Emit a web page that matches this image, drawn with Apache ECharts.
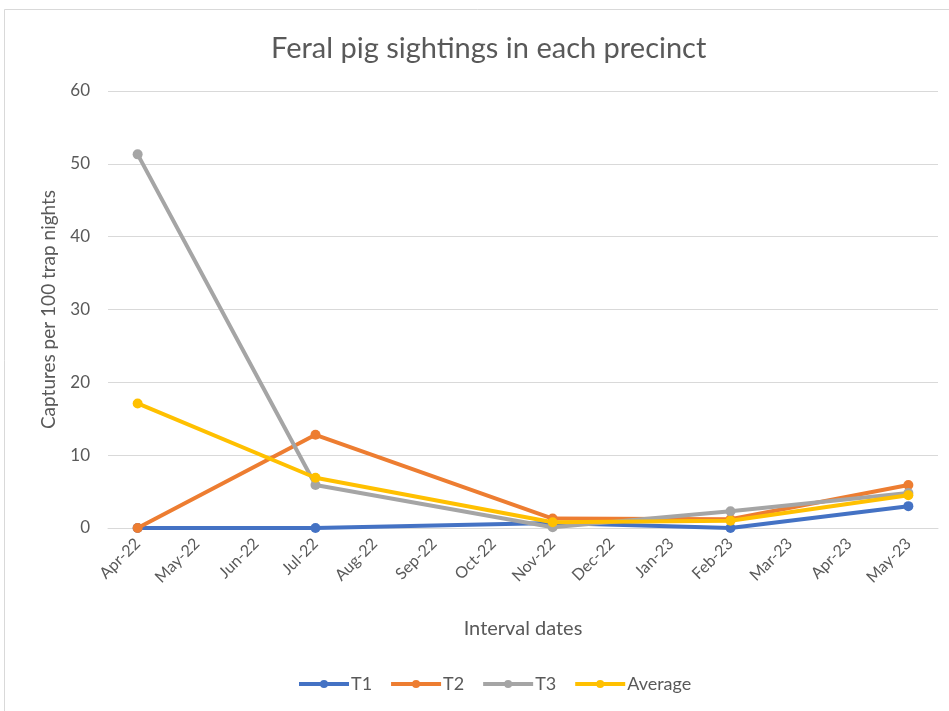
<!DOCTYPE html>
<html>
<head>
<meta charset="utf-8">
<script src="https://cdn.jsdelivr.net/npm/echarts@6/dist/echarts.min.js"></script>
<style>
html,body{margin:0;padding:0;background:#fff;}
#chart{width:949px;height:711px;}
</style>
</head>
<body>
<div id="chart"></div>
<script>
const categories = ['Apr-22','May-22','Jun-22','Jul-22','Aug-22','Sep-22','Oct-22','Nov-22','Dec-22','Jan-23','Feb-23','Mar-23','Apr-23','May-23'];
const t1 = [0, null, null, 0, null, null, null, 0.7, null, null, 0, null, null, 3.0];
const t2 = [0, null, null, 12.8, null, null, null, 1.3, null, null, 1.2, null, null, 5.9];
const t3 = [51.3, null, null, 5.9, null, null, null, 0.1, null, null, 2.3, null, null, 4.8];
const avg = [17.1, null, null, 6.9, null, null, null, 0.8, null, null, 1.0, null, null, 4.5];
const seriesNames = ['T1','T2','T3','Average'];
const seriesColors = ['#4472C4','#ED7D31','#A5A5A5','#FFC000'];
const seriesData = [t1, t2, t3, avg];

const FONT = 'Lato, "Open Sans", sans-serif';
const chart = echarts.init(document.getElementById('chart'));
chart.setOption({
  backgroundColor: '#fff',
  animation: false,
  graphic: [{
    type: 'rect', silent: true, z: -1,
    shape: {x: 4.5, y: 9.5, width: 960, height: 720},
    style: {fill: 'none', stroke: '#d9d9d9', lineWidth: 1}
  }],
  title: {
    text: 'Feral pig sightings in each precinct',
    left: 266, top: 29,
    textStyle: {fontFamily: FONT, fontSize: 29, fontWeight: 'normal', color: '#595959'}
  },
  grid: {left: 108, right: 11, top: 91, bottom: 183},
  legend: {
    data: seriesNames,
    left: 297, top: 675, padding: 0,
    itemWidth: 50, itemHeight: 10, itemGap: 17,
    lineStyle: {width: 4},
    textStyle: {fontFamily: FONT, fontSize: 18, color: '#595959', padding: [0,0,0,-3]}
  },
  xAxis: {
    type: 'category',
    data: categories,
    boundaryGap: true,
    name: 'Interval dates',
    nameLocation: 'middle',
    nameGap: 91,
    nameTextStyle: {fontFamily: FONT, fontSize: 20, color: '#595959'},
    axisLine: {lineStyle: {color: '#d9d9d9', width: 1}},
    axisTick: {show: false},
    axisLabel: {rotate: 45, interval: 0, margin: 13, fontFamily: FONT, fontSize: 16, color: '#595959'},
    splitLine: {show: false}
  },
  yAxis: {
    type: 'value',
    min: 0, max: 60, interval: 10,
    name: 'Captures per 100 trap nights',
    nameLocation: 'middle',
    nameGap: 50,
    nameTextStyle: {fontFamily: FONT, fontSize: 19, color: '#595959'},
    axisLine: {show: false},
    axisTick: {show: false},
    axisLabel: {margin: 18, fontFamily: FONT, fontSize: 17, color: '#595959'},
    splitLine: {lineStyle: {color: '#d9d9d9', width: 1}}
  },
  series: seriesNames.map((n, i) => ({
    name: n,
    type: 'line',
    data: seriesData[i],
    connectNulls: true,
    symbol: 'circle',
    symbolSize: 10,
    lineStyle: {color: seriesColors[i], width: 4},
    itemStyle: {color: seriesColors[i]},
    z: 2 + i
  }))
});
</script>
</body>
</html>
